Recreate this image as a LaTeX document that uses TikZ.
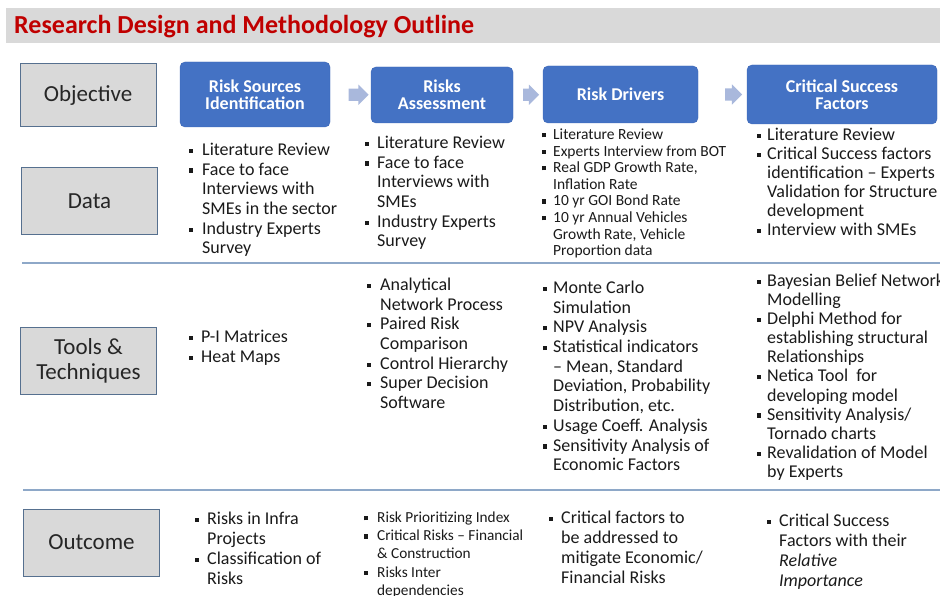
\documentclass[tikz,border=0pt]{standalone}
\usepackage{fontspec}
\setmainfont{Carlito}
\usetikzlibrary{shapes.arrows,positioning,calc}
\definecolor{titleRed}{HTML}{C00000}
\definecolor{bandFill}{HTML}{D9D9D9}
\definecolor{labelFill}{HTML}{D9D9D9}
\definecolor{labelStroke}{HTML}{56708F}
\definecolor{stageFill}{HTML}{4472C4}
\definecolor{stageStroke}{HTML}{3C66B5}
\definecolor{arrowFill}{HTML}{A9B8DC}
\definecolor{ruleLine}{HTML}{8EA8C8}
\definecolor{textMain}{HTML}{1A1A1A}

% small square bullet, as in the slide lists
\newcommand{\sqb}{\rule[0.3ex]{4.2pt}{4.2pt}}
\newcommand{\col}[1]{\begin{tabular}[t]{@{}p{#1}@{}l@{}}}

\begin{document}
\begin{tikzpicture}[
    x=1pt, y=-1pt,
    font=\fontsize{18}{19.7}\selectfont,
    titleBand/.style={
        rectangle, fill=bandFill, inner sep=0pt,
        minimum width=934pt, minimum height=35pt
    },
    rowLabel/.style={
        rectangle, draw=labelStroke, line width=1pt,
        fill=labelFill, text=black!85,
        minimum width=136pt, minimum height=67pt,
        align=center, font=\fontsize{23}{25}\selectfont
    },
    stageNode/.style={
        rectangle, rounded corners=5pt,
        draw=stageStroke, fill=stageFill, text=white,
        align=center, font=\fontsize{18}{17}\selectfont\bfseries
    },
    stepArrow/.style={
        single arrow, fill=arrowFill, draw=none,
        inner xsep=0pt, inner ysep=6pt,
        minimum height=20pt,
        single arrow head extend=4pt
    },
    itemText/.style={anchor=base west, inner sep=0pt, text=textMain},
    sepLine/.style={draw=ruleLine, line width=1.2pt}
]
\useasboundingbox (0,0) rectangle (940,596);

% header
\node[titleBand] (TitleBand) at (473,25.5) {};
\node[anchor=west, inner sep=0pt, text=titleRed,
      font=\fontsize{26}{28}\selectfont\bfseries] (Title) at (14,27)
  {Research Design and Methodology Outline};

% row labels
\node[rowLabel, minimum height=63pt] (Objective) at (88,95.5) {Objective};
\node[rowLabel] (Data) at (89.5,201.5) {Data};
\node[rowLabel] (Tools) at (88.5,361) {Tools \&\\Techniques};
\node[rowLabel] (Outcome) at (91.5,542.5) {Outcome};

\draw[sepLine] (22,263) -- (940,263);
\draw[sepLine] (23,490) -- (940,490);

% objective stages
\node[stageNode, minimum width=150pt, minimum height=65pt] (RiskSources) at (255,94.5)
  {Risk Sources\\Identification};
\node[stageNode, minimum width=142pt, minimum height=56pt] (RiskAssess) at (442,95)
  {Risks\\Assessment};
\node[stageNode, minimum width=155pt, minimum height=57pt] (RiskDrivers) at (620.5,94.5)
  {Risk Drivers};
\node[stageNode, minimum width=190pt, minimum height=59pt] (SuccessFactors) at (842,94.5)
  {Critical Success\\Factors};

\node[stepArrow] (ArrowA) at ($(RiskSources.east)!0.5!(RiskAssess.west)+(5,0)$) {};
\node[stepArrow, minimum height=16pt] (ArrowB) at ($(RiskAssess.east)!0.5!(RiskDrivers.west)$) {};
\node[stepArrow, minimum height=17pt] (ArrowC) at ($(RiskDrivers.east)!0.5!(SuccessFactors.west)+(8,0)$) {};

% data row
\node[itemText] (DataSources) at (189,155.5) {\col{13pt}
  \sqb & Literature Review\\
  \sqb & Face to face\\
       & Interviews with\\
       & SMEs in the sector\\
  \sqb & Industry Experts\\
       & Survey
\end{tabular}};
\node[itemText] (DataAssess) at (365,148.5) {\col{12pt}
  \sqb & Literature Review\\
  \sqb & Face to face\\
       & Interviews with\\
       & SMEs\\
  \sqb & Industry Experts\\
       & Survey
\end{tabular}};
\node[itemText, font=\fontsize{15.5}{16.6}\selectfont] (DataDrivers) at (542,139.5) {\col{11pt}
  \sqb & Literature Review\\
  \sqb & Experts Interview from BOT\\
  \sqb & Real GDP Growth Rate,\\
       & Inflation Rate\\
  \sqb & 10 yr GOI Bond Rate\\
  \sqb & 10 yr Annual Vehicles\\
       & Growth Rate, Vehicle\\
       & Proportion data
\end{tabular}};
\node[itemText, font=\fontsize{18}{19}\selectfont] (DataFactors) at (757,140.5) {\col{10pt}
  \sqb & Literature Review\\
  \sqb & Critical Success factors\\
       & identification -- Experts\\
       & Validation for Structure\\
       & development\\
  \sqb & Interview with SMEs
\end{tabular}};

% tools & techniques row
\node[itemText, font=\fontsize{18}{20}\selectfont] (ToolsSources) at (189,342.5) {\col{12pt}
  \sqb & P-I Matrices\\
  \sqb & Heat Maps
\end{tabular}};
\node[itemText] (ToolsAssess) at (367,290.5) {\col{13pt}
  \sqb & Analytical\\
       & Network Process\\
  \sqb & Paired Risk\\
       & Comparison\\
  \sqb & Control Hierarchy\\
  \sqb & Super Decision\\
       & Software
\end{tabular}};
\node[itemText] (ToolsDrivers) at (543,293.5) {\col{10pt}
  \sqb & Monte Carlo\\
       & Simulation\\
  \sqb & NPV Analysis\\
  \sqb & Statistical indicators\\
       & -- Mean, Standard\\
       & Deviation, Probability\\
       & Distribution, etc.\\
  \sqb & Usage Coeff. Analysis\\
  \sqb & Sensitivity Analysis of\\
       & Economic Factors
\end{tabular}};
\node[itemText, font=\fontsize{18}{19.1}\selectfont] (ToolsFactors) at (757,286.5) {\col{10pt}
  \sqb & Bayesian Belief Network\\
       & Modelling\\
  \sqb & Delphi Method for\\
       & establishing structural\\
       & Relationships\\
  \sqb & Netica Tool\ \ for\\
       & developing model\\
  \sqb & Sensitivity Analysis/\\
       & Tornado charts\\
  \sqb & Revalidation of Model\\
       & by Experts
\end{tabular}};

% outcome row
\node[itemText, font=\fontsize{18}{20}\selectfont] (OutSources) at (195,524.5) {\col{12pt}
  \sqb & Risks in Infra\\
       & Projects\\
  \sqb & Classification of\\
       & Risks
\end{tabular}};
\node[itemText, font=\fontsize{15.3}{18.2}\selectfont] (OutAssess) at (364,522.5) {\col{13pt}
  \sqb & Risk Prioritizing Index\\
  \sqb & Critical Risks -- Financial\\
       & \& Construction\\
  \sqb & Risks Inter\\
       & dependencies
\end{tabular}};
\node[itemText, font=\fontsize{18}{20}\selectfont] (OutDrivers) at (549,523.5) {\col{12pt}
  \sqb & Critical factors to\\
       & be addressed to\\
       & mitigate Economic/\\
       & Financial Risks
\end{tabular}};
\node[itemText, font=\fontsize{18}{20}\selectfont] (OutFactors) at (767,526.5) {\col{12pt}
  \sqb & Critical Success\\
       & Factors with their\\
       & \textit{Relative}\\
       & \textit{Importance}
\end{tabular}};

\end{tikzpicture}
\end{document}
